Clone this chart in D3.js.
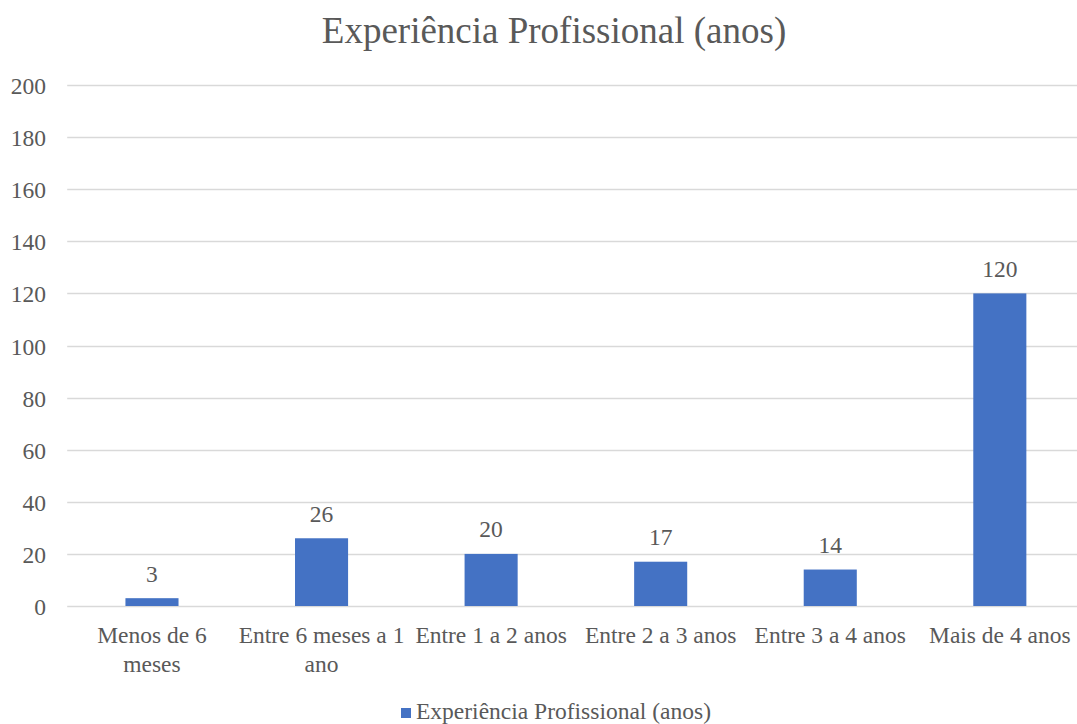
<!DOCTYPE html>
<html>
<head>
<meta charset="utf-8">
<script src="https://cdn.jsdelivr.net/npm/d3@7"></script>
<style>
  html, body { margin: 0; padding: 0; background: #fff; }
  svg { display: block; }
  svg text { font-family: "Liberation Serif", Tinos, "Times New Roman", Times, serif; fill: #595959; }
</style>
</head>
<body>
<svg id="chart" width="1077" height="724"></svg>
<script>
// Experiência profissional dos respondentes, por faixa
const categories = [
  ["Menos de 6", "meses"],
  ["Entre 6 meses a 1", "ano"],
  ["Entre 1 a 2 anos"],
  ["Entre 2 a 3 anos"],
  ["Entre 3 a 4 anos"],
  ["Mais de 4 anos"]
];
const values = [3, 26, 20, 17, 14, 120];
const yTicks = [0, 20, 40, 60, 80, 100, 120, 140, 160, 180, 200];
const seriesName = "Experiência Profissional (anos)";
const chartTitle = "Experiência Profissional (anos)";

const serif = "'Liberation Serif', Tinos, 'Times New Roman', Times, serif";
const labelSize = 23.5;
const svg = d3.select("#chart");
const plot = { left: 67.2, right: 1084.6, top: 85, bottom: 606 };

const keys = categories.map((c, i) => i);
const x = d3.scaleBand().domain(keys).range([plot.left, plot.right]).paddingInner(0).paddingOuter(0);
const y = d3.scaleLinear().domain([0, 200]).range([plot.bottom, plot.top]);
const barW = x.bandwidth() * 0.313;

// Title
svg.append("text")
  .attr("x", 554).attr("y", 43)
  .attr("text-anchor", "middle")
  .attr("font-family", serif)
  .style("font-size", "37px")
  .text(chartTitle);

// Horizontal gridlines
svg.append("g").selectAll("line").data(yTicks).join("line")
  .attr("x1", plot.left).attr("x2", plot.right)
  .attr("y1", d => Math.round(y(d)) + 0.5).attr("y2", d => Math.round(y(d)) + 0.5)
  .attr("stroke", "#d9d9d9").attr("stroke-width", 1.3);

// Y axis labels
const yAxis = d3.axisLeft(y).tickValues(yTicks).tickSize(0).tickPadding(0);
const gy = svg.append("g").attr("transform", "translate(46,0)").call(yAxis)
  .attr("font-family", serif).attr("font-size", labelSize);
gy.select(".domain").remove();
gy.selectAll("text").attr("fill", "#595959").attr("dy", "8.5px");

// Bars
svg.append("g").selectAll("rect").data(values).join("rect")
  .attr("x", (d, i) => x(i) + x.bandwidth() / 2 - barW / 2)
  .attr("width", barW)
  .attr("y", d => y(d))
  .attr("height", d => y(0) - y(d))
  .attr("fill", "#4472c4");

// Value labels
svg.append("g").attr("font-family", serif).selectAll("text").data(values).join("text")
  .attr("x", (d, i) => x(i) + x.bandwidth() / 2)
  .attr("y", d => y(d) - 16.5)
  .attr("text-anchor", "middle")
  .style("font-size", labelSize + "px")
  .text(d => d);

// Category labels
const cat = svg.append("g").attr("font-family", serif).selectAll("text").data(categories).join("text")
  .attr("x", (d, i) => x(i) + x.bandwidth() / 2)
  .attr("y", 643.3)
  .attr("text-anchor", "middle")
  .style("font-size", labelSize + "px");
cat.selectAll("tspan").data(d => d).join("tspan")
  .attr("x", function () { return this.parentNode.getAttribute("x"); })
  .attr("dy", (d, j) => j === 0 ? 0 : 28.4)
  .text(d => d);

// Legend
const lg = svg.append("g").attr("font-family", serif);
lg.append("rect").attr("x", 401).attr("y", 708).attr("width", 10).attr("height", 10).attr("fill", "#4472c4");
lg.append("text").attr("x", 416).attr("y", 718.5).style("font-size", "23.5px").text(seriesName);
</script>
</body>
</html>
